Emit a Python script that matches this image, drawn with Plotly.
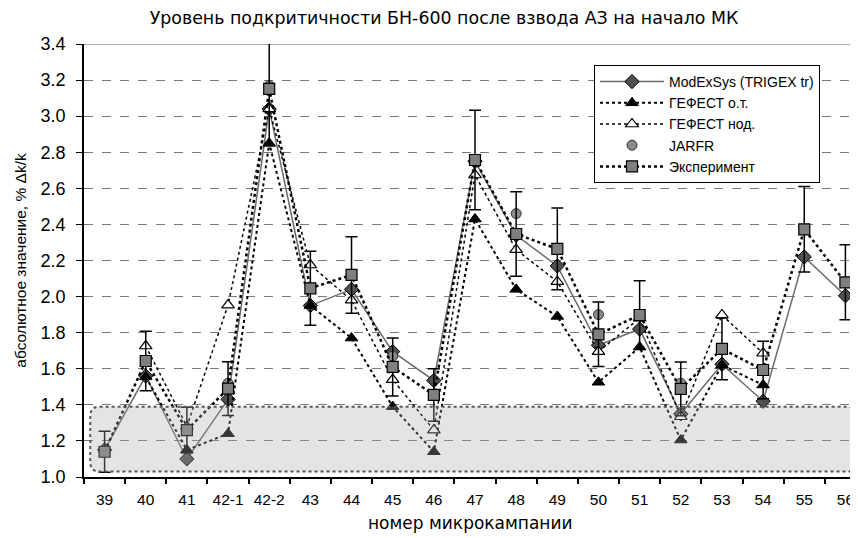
import plotly.graph_objects as go

categories = ["39", "40", "41", "42-1", "42-2", "43", "44", "45", "46", "47",
              "48", "49", "50", "51", "52", "53", "54", "55", "56"]

modexsys = [1.15, 1.56, 1.10, 1.43, 3.04, 1.95, 2.04, 1.695, 1.535, 2.75,
            2.34, 2.17, 1.73, 1.82, 1.35, 1.625, 1.42, 2.22, 2.005]
gefest_ot = [None, 1.555, 1.15, 1.24, 2.85, 1.95, 1.77, 1.39, 1.14, 2.43,
             2.04, 1.89, 1.525, 1.72, 1.205, 1.62, 1.51, None, None]
gefest_nod = [None, 1.726, 1.28, 1.953, 3.04, 2.175, 1.98, 1.54, 1.26, 2.674,
              2.26, 2.083, 1.695, 1.88, 1.334, 1.898, 1.686, None, None]
jarfr = [None, None, None, 1.52, 3.17, None, None, 1.67, None, None,
         2.46, None, 1.90, None, 1.52, None, None, None, None]
experiment = [1.14, 1.643, 1.26, 1.49, 3.151, 2.046, 2.12, 1.61, 1.455, 2.757,
              2.347, 2.264, 1.791, 1.898, 1.488, 1.71, 1.593, 2.373, 2.079]
exp_error_percent = 10

band_low, band_high = 1.03, 1.39

title_text = "Уровень подкритичности БН-600 после взвода АЗ на начало МК"
x_title = "номер микрокампании"
y_title = "абсолютное значение, % Δk/k"

FONT = "Liberation Sans, Arial, sans-serif"
WIDE = "DejaVu Sans, Verdana, sans-serif"

# the page shows the figure with an 8px offset; layout compensates for it
L, T, B = 76, 36, 69
PH = 538 - T - B

fig = go.Figure()

fig.add_trace(go.Scatter(
    x=categories, y=modexsys, name="ModExSys (TRIGEX tr)", mode="lines+markers",
    line=dict(color="#6a6a6a", width=1.5),
    marker=dict(symbol="diamond", size=11, color="#505050", line=dict(color="#000", width=1)),
    connectgaps=True))
fig.add_trace(go.Scatter(
    x=categories, y=gefest_ot, name="ГЕФЕСТ о.т.", mode="lines+markers",
    line=dict(color="#000", width=2, dash="dot"),
    marker=dict(symbol="triangle-up", size=11, color="#000", line=dict(color="#000", width=1)),
    connectgaps=True))
fig.add_trace(go.Scatter(
    x=categories, y=gefest_nod, name="ГЕФЕСТ нод.", mode="lines+markers",
    line=dict(color="#000", width=1.5, dash="dot"),
    marker=dict(symbol="triangle-up", size=11, color="#fff", line=dict(color="#000", width=1.2)),
    connectgaps=True))
fig.add_trace(go.Scatter(
    x=categories, y=jarfr, name="JARFR", mode="markers",
    marker=dict(symbol="circle", size=10, color="#8a8a8a", line=dict(color="#333", width=1))))
fig.add_trace(go.Scatter(
    x=categories, y=experiment, name="Эксперимент", mode="lines+markers",
    line=dict(color="#000", width=2.5, dash="dot"),
    marker=dict(symbol="square", size=11, color="#7f7f7f", line=dict(color="#000", width=1.2)),
    error_y=dict(type="percent", value=exp_error_percent, color="#000", thickness=1.5, width=6),
    connectgaps=True))

# shaded band (rounded rectangle)
x0, x1 = 0.008, 1.05
rx, ry = 0.012, 0.055
path = (f"M {x0+rx},{band_high} L {x1},{band_high} L {x1},{band_low} L {x0+rx},{band_low} "
        f"Q {x0},{band_low} {x0},{band_low+ry} L {x0},{band_high-ry} "
        f"Q {x0},{band_high} {x0+rx},{band_high} Z")
fig.add_shape(type="path", path=path, xref="paper", yref="y", layer="above",
              fillcolor="rgba(170,170,170,0.32)",
              line=dict(color="#555", width=2, dash="dot"))
# top border line
fig.add_shape(type="line", xref="paper", yref="y", x0=0, x1=1, y0=3.4, y1=3.4,
              line=dict(color="#8c8c8c", width=1.5), layer="below")

fig.add_annotation(text=x_title, xref="paper", yref="paper",
                   x=(462 - L) / 782, y=(T + PH - 515) / PH,
                   xanchor="center", yanchor="middle", showarrow=False,
                   font=dict(family=WIDE, size=17, color="#000"))

fig.update_layout(
    width=858, height=538,
    margin=dict(l=L, r=0, t=T, b=B),
    paper_bgcolor="#fff", plot_bgcolor="#fff",
    font=dict(family=FONT, size=15, color="#000"),
    title=dict(text=title_text, x=436 / 858, xref="container", xanchor="center",
               y=1 - 10 / 538, yref="container", yanchor="middle",
               font=dict(family=WIDE, size=17.4, color="#000")),
    showlegend=True,
    legend=dict(x=(586 - L) / 782, y=(T + PH - 57) / PH, xanchor="left", yanchor="top",
                bgcolor="#fff", bordercolor="#000", borderwidth=1,
                font=dict(family=FONT, size=14, color="#000"),
                tracegroupgap=0, itemwidth=64),
)
fig.update_xaxes(
    type="category", range=[-0.5, 18.5], tickson="boundaries", automargin=False,
    tickangle=0, ticks="outside", ticklen=5, tickcolor="#000", tickwidth=1.5,
    ticklabelstandoff=8,
    showline=True, linecolor="#000", linewidth=1.5, showgrid=False,
    tickfont=dict(family=FONT, size=15.5, color="#000"),
)
fig.update_yaxes(
    range=[1.0, 3.4], dtick=0.2, tickformat=".1f", automargin=False,
    ticks="outside", ticklen=6, tickcolor="#000", tickwidth=1.2,
    ticklabelstandoff=7,
    showline=True, linecolor="#000", linewidth=1.5,
    showgrid=True, gridcolor="#7a7a7a", gridwidth=1.3, griddash="dash",
    zeroline=False,
    tickfont=dict(family=FONT, size=18, color="#000"),
    title=dict(text=y_title, standoff=10, font=dict(family=FONT, size=15.5, color="#000")),
)

fig.write_html("out.html")
